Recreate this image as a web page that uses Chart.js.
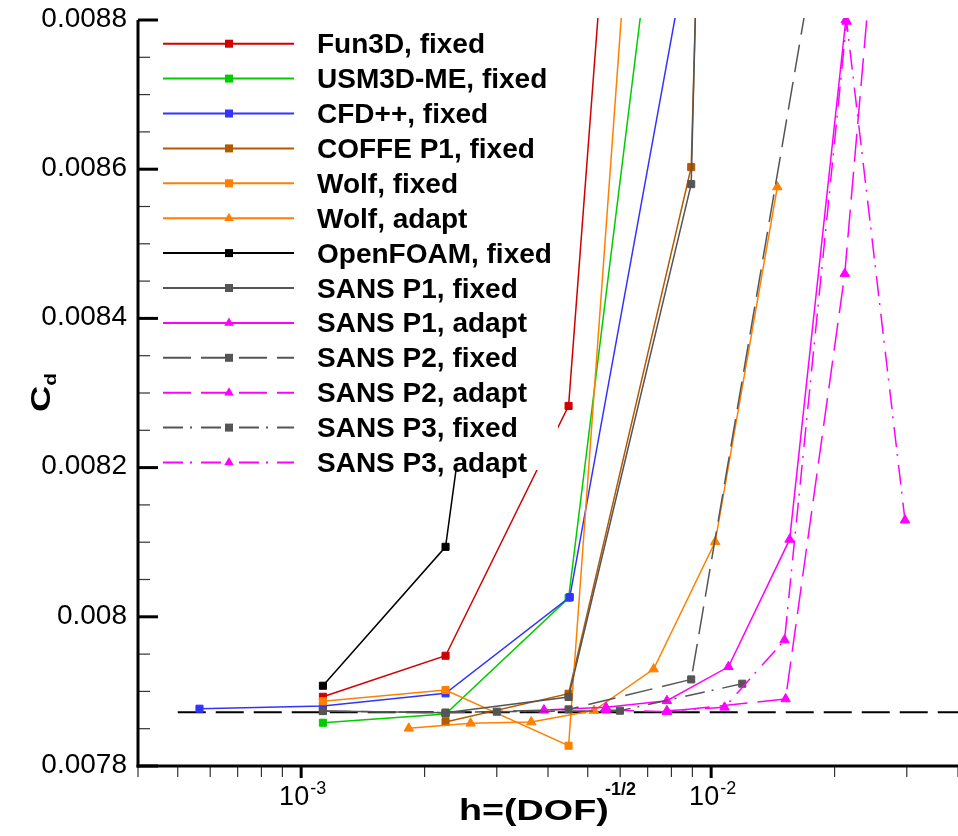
<!DOCTYPE html>
<html>
<head>
<meta charset="utf-8">
<script src="https://cdn.jsdelivr.net/npm/chart.js@4.4.1/dist/chart.umd.min.js"></script>
<style>
  html, body { margin: 0; padding: 0; background: #fff; }
  canvas { display: block; }
</style>
</head>
<body>
<canvas id="graphique" width="958" height="836"></canvas>
<script>
// Données : h = (DOF)^-1/2 et Cd
const fun3dH = [1.13e-3, 2.25e-3, 4.49e-3, 8.94e-3];
const fun3dCd = [0.0078928, 0.0079478, 0.0082827, 0.010458];

const usm3dH = [1.13e-3, 2.25e-3, 4.49e-3, 8.94e-3];
const usm3dCd = [0.0078580, 0.0078697, 0.0080251, 0.009356];

const cfdH = [5.65e-4, 1.13e-3, 2.25e-3, 4.52e-3, 8.94e-3];
const cfdCd = [0.0078768, 0.0078804, 0.0078974, 0.0080264, 0.0089219];

const coffeH = [2.25e-3, 4.49e-3, 8.94e-3, 1.79e-2];
const coffeCd = [0.0078589, 0.0078969, 0.0086028, 0.014617];

const wolfFixH = [1.13e-3, 2.25e-3, 4.49e-3, 8.94e-3];
const wolfFixCd = [0.0078867, 0.0079018, 0.0078272, 0.010098];

const wolfAdaptH = [1.83e-3, 2.59e-3, 3.64e-3, 5.18e-3, 7.24e-3, 1.023e-2, 1.450e-2];
const wolfAdaptCd = [0.0078505, 0.0078572, 0.0078589, 0.0078743, 0.0079299, 0.0081005, 0.0085761];

const openfoamH = [1.13e-3, 2.25e-3, 4.49e-3];
const openfoamCd = [0.0079076, 0.0080938, 0.009305];

const sansP1FixH = [1.13e-3, 2.25e-3, 4.49e-3, 8.94e-3, 1.79e-2];
const sansP1FixCd = [0.0078737, 0.0078714, 0.0078925, 0.0085800, 0.015294];

const sansP1AdaptH = [3.91e-3, 5.54e-3, 7.80e-3, 1.102e-2, 1.554e-2, 2.13e-2];
const sansP1AdaptCd = [0.0078750, 0.0078786, 0.0078875, 0.0079330, 0.0081037, 0.0088];

const sansP2FixH = [1.13e-3, 2.25e-3, 4.49e-3, 8.94e-3, 1.79e-2];
const sansP2FixCd = [0.0078737, 0.0078714, 0.0078759, 0.0079161, 0.008888];

const sansP2AdaptH = [5.54e-3, 7.80e-3, 1.519e-2, 2.118e-2, 2.97e-2];
const sansP2AdaptCd = [0.0078750, 0.0078728, 0.0078898, 0.0084600, 0.009395];

const sansP3FixH = [3.0e-3, 5.99e-3, 1.191e-2];
const sansP3FixCd = [0.0078728, 0.0078741, 0.0079103];

const sansP3AdaptH = [7.80e-3, 1.078e-2, 1.510e-2, 2.14e-2, 2.97e-2];
const sansP3AdaptCd = [0.0078740, 0.0078786, 0.0079688, 0.008798, 0.0081295];

// droite de référence (valeur convergée)
const refH = [5.0e-4, 4.0e-2];
const refCd = [0.007872, 0.007872];

// axes
const xMin = 4e-4, xMax = 4e-2;
const yMin = 0.0078, yMax = 0.0088;
const yTicks = [0.0078, 0.008, 0.0082, 0.0084, 0.0086, 0.0088];
const yTickLabels = ['0.0078', '0.008', '0.0082', '0.0084', '0.0086', '0.0088'];
const xTicks = [1e-3, 1e-2];
const xTickExp = ['-3', '-2'];

const PLEIN = [];
const TIRET = [28, 10];
const TIRET_POINT = [20, 7, 2, 9];

const series = [
  { label: 'Fun3D, fixed', h: fun3dH, cd: fun3dCd, couleur: '#d00000', marque: 'rect', trait: PLEIN },
  { label: 'USM3D-ME, fixed', h: usm3dH, cd: usm3dCd, couleur: '#00cc00', marque: 'rect', trait: PLEIN },
  { label: 'CFD++, fixed', h: cfdH, cd: cfdCd, couleur: '#3333ff', marque: 'rect', trait: PLEIN },
  { label: 'COFFE P1, fixed', h: coffeH, cd: coffeCd, couleur: '#b35900', marque: 'rect', trait: PLEIN },
  { label: 'Wolf, fixed', h: wolfFixH, cd: wolfFixCd, couleur: '#ff8000', marque: 'rect', trait: PLEIN },
  { label: 'Wolf, adapt', h: wolfAdaptH, cd: wolfAdaptCd, couleur: '#ff8000', marque: 'triangle', trait: PLEIN },
  { label: 'OpenFOAM, fixed', h: openfoamH, cd: openfoamCd, couleur: '#000000', marque: 'rect', trait: PLEIN },
  { label: 'SANS P1, fixed', h: sansP1FixH, cd: sansP1FixCd, couleur: '#555555', marque: 'rect', trait: PLEIN },
  { label: 'SANS P1, adapt', h: sansP1AdaptH, cd: sansP1AdaptCd, couleur: '#ff00ff', marque: 'triangle', trait: PLEIN },
  { label: 'SANS P2, fixed', h: sansP2FixH, cd: sansP2FixCd, couleur: '#555555', marque: 'rect', trait: TIRET },
  { label: 'SANS P2, adapt', h: sansP2AdaptH, cd: sansP2AdaptCd, couleur: '#ff00ff', marque: 'triangle', trait: TIRET },
  { label: 'SANS P3, fixed', h: sansP3FixH, cd: sansP3FixCd, couleur: '#555555', marque: 'rect', trait: TIRET_POINT },
  { label: 'SANS P3, adapt', h: sansP3AdaptH, cd: sansP3AdaptCd, couleur: '#ff00ff', marque: 'triangle', trait: TIRET_POINT }
];

const POLICE = '"Liberation Sans", Arial, Helvetica, sans-serif';
const decoupe = { left: 0, top: 2, right: 0, bottom: 0 };

const datasets = [{
  label: 'reference',
  data: refH.map((h, k) => ({ x: h, y: refCd[k] })),
  borderColor: '#000',
  borderWidth: 2,
  borderDash: TIRET,
  pointRadius: 0,
  fill: false,
  clip: decoupe,
  order: series.length + 1
}];

series.forEach(function(s, i) {
  datasets.push({
    label: s.label,
    data: s.h.map((h, k) => ({ x: h, y: s.cd[k] })),
    borderColor: s.couleur,
    backgroundColor: s.couleur,
    borderWidth: 1.5,
    borderDash: s.trait,
    pointStyle: s.marque,
    pointRadius: s.marque === 'rect' ? 5 : 5.5,
    pointBorderWidth: 1,
    pointBackgroundColor: s.couleur,
    pointBorderColor: s.couleur,
    fill: false,
    tension: 0,
    clip: decoupe,
    order: series.length - i
  });
});

function trait(ctx, x1, y1, x2, y2, larg, coul) {
  ctx.beginPath();
  ctx.lineWidth = larg;
  ctx.strokeStyle = coul;
  ctx.moveTo(x1, y1);
  ctx.lineTo(x2, y2);
  ctx.stroke();
}

function marque(ctx, type, x, y, coul) {
  ctx.fillStyle = coul;
  ctx.beginPath();
  if (type === 'rect') {
    ctx.rect(x - 4, y - 4, 8, 8);
  } else {
    ctx.moveTo(x, y - 5.5);
    ctx.lineTo(x + 4.8, y + 2.8);
    ctx.lineTo(x - 4.8, y + 2.8);
    ctx.closePath();
  }
  ctx.fill();
}

// légende, axes et textes dessinés à la main (style Tecplot)
const habillage = {
  id: 'habillage',
  afterDraw(chart) {
    const ctx = chart.ctx;
    const xs = chart.scales.x;
    const ys = chart.scales.y;
    const a = chart.chartArea;
    ctx.save();

    // Légende (fond blanc qui masque les courbes)
    ctx.fillStyle = '#fff';
    ctx.fillRect(160, 17, 398, 453);
    series.forEach(function(s, i) {
      const y = 43.7 + i * 34.9;
      ctx.save();
      ctx.setLineDash(s.trait);
      trait(ctx, 163, y, 294, y, 2, s.couleur);
      ctx.restore();
      marque(ctx, s.marque, 229, y, s.couleur);
      ctx.fillStyle = '#000';
      ctx.font = 'bold 28px ' + POLICE;
      ctx.textAlign = 'left';
      ctx.textBaseline = 'alphabetic';
      ctx.fillText(s.label, 317, y + 9.5);
    });

    // Graduations Y (vers l'intérieur)
    for (let k = 0; k <= 20; k++) {
      const v = yMin + k * 0.00005;
      const y = ys.getPixelForValue(v);
      if (k % 4 === 0) trait(ctx, a.left, y, a.left + 20, y, 3, '#000');
      else trait(ctx, a.left, y, a.left + 12, y, 1.2, '#333');
    }

    // Graduations X (vers l'extérieur)
    for (let d = -4; d <= -2; d++) {
      for (let m = 1; m <= 9; m++) {
        const v = m * Math.pow(10, d);
        if (v < xMin * 0.999 || v > xMax * 1.001) continue;
        const x = xs.getPixelForValue(v);
        if (m === 1) trait(ctx, x, a.bottom, x, a.bottom + 12, 3, '#000');
        else trait(ctx, x, a.bottom, x, a.bottom + 11, 1.2, '#333');
      }
    }

    // Axes
    trait(ctx, a.left, a.top, a.left, a.bottom + 1.5, 3, '#000');
    trait(ctx, a.left - 1.5, a.bottom, a.right, a.bottom, 3, '#000');

    // Étiquettes Y
    ctx.fillStyle = '#000';
    ctx.font = '28px ' + POLICE;
    ctx.textAlign = 'right';
    ctx.textBaseline = 'middle';
    yTicks.forEach(function(v, i) {
      ctx.fillText(yTickLabels[i], 127, ys.getPixelForValue(v) - 1);
    });

    // Étiquettes X : 10^-3, 10^-2
    ctx.textBaseline = 'alphabetic';
    xTicks.forEach(function(v, i) {
      const x = xs.getPixelForValue(v);
      ctx.font = '27px ' + POLICE;
      ctx.textAlign = 'right';
      ctx.fillText('10', x + 8, 805);
      ctx.font = '18px ' + POLICE;
      ctx.textAlign = 'left';
      ctx.fillText(xTickExp[i], x + 9, 794);
    });

    // Titre X
    ctx.save();
    ctx.translate(459, 820);
    ctx.scale(1.3, 1);
    ctx.font = 'bold 29px ' + POLICE;
    ctx.textAlign = 'left';
    ctx.fillText('h=(DOF)', 0, 0);
    ctx.restore();
    ctx.font = 'bold 18px ' + POLICE;
    ctx.textAlign = 'left';
    ctx.fillText('-1/2', 605, 795);

    // Titre Y : C_d
    ctx.save();
    ctx.translate(50, 412);
    ctx.rotate(-Math.PI / 2);
    ctx.scale(1.3, 1);
    ctx.font = 'bold 28px ' + POLICE;
    ctx.textAlign = 'left';
    ctx.fillText('C', 0, 0);
    const lc = ctx.measureText('C').width;
    ctx.font = 'bold 16px ' + POLICE;
    ctx.fillText('d', lc, 6);
    ctx.restore();

    ctx.restore();
  }
};

const ctx = document.getElementById('graphique').getContext('2d');
const monGraphique = new Chart(ctx, {
  type: 'line',
  data: { datasets: datasets },
  options: {
    responsive: false,
    devicePixelRatio: 1,
    animation: false,
    layout: { autoPadding: false, padding: { left: 138, right: 0, top: 20, bottom: 70 } },
    plugins: {
      legend: { display: false },
      tooltip: { enabled: false }
    },
    scales: {
      x: { type: 'logarithmic', min: xMin, max: xMax, display: false },
      y: { type: 'linear', min: yMin, max: yMax, display: false }
    }
  },
  plugins: [habillage]
});
</script>
</body>
</html>
